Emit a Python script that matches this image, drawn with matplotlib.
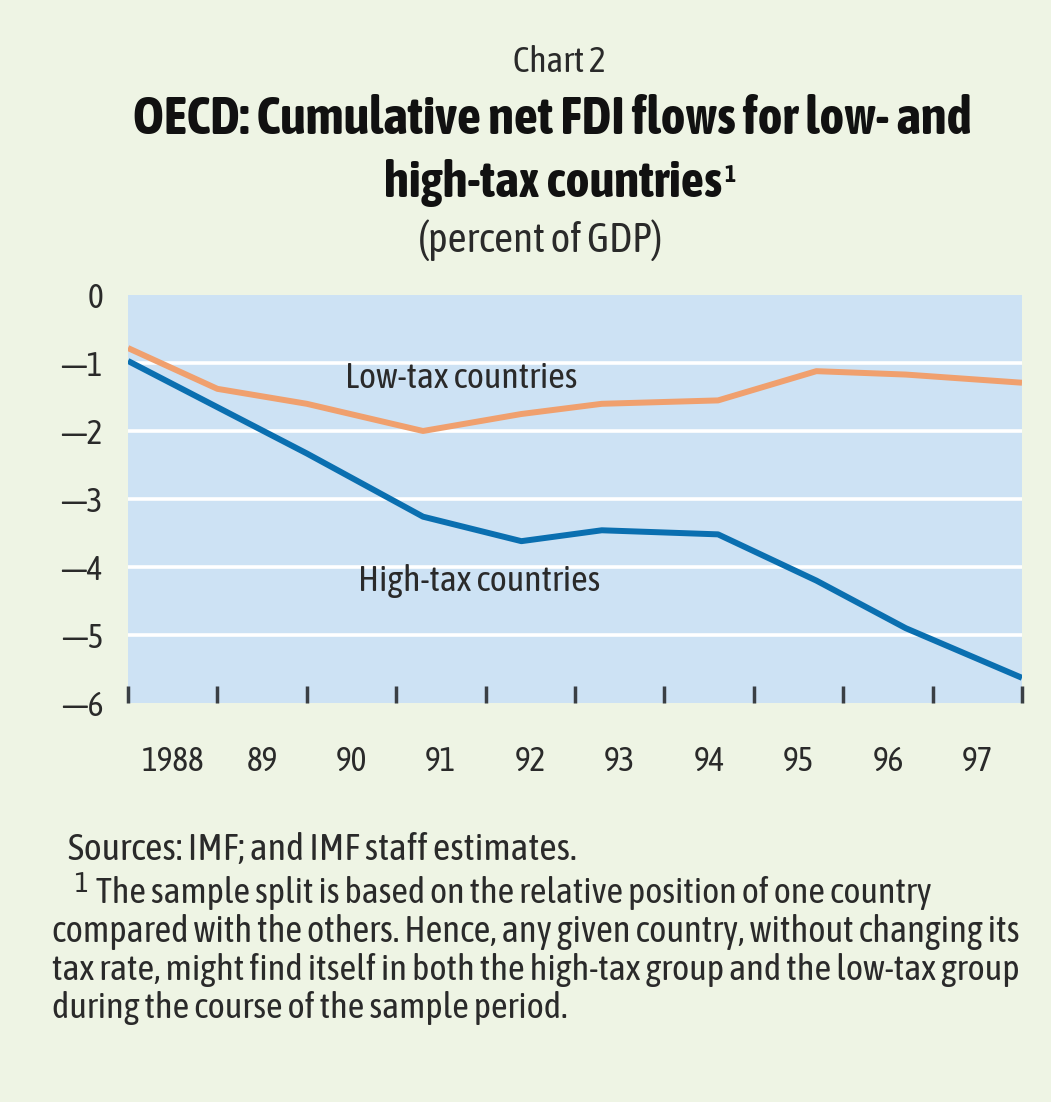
import numpy as np
import matplotlib
matplotlib.use("Agg")
import matplotlib.pyplot as plt
from matplotlib.ticker import FixedLocator, NullFormatter

plt.rcParams['font.family'] = ['Asap Condensed', 'Liberation Sans', 'DejaVu Sans']

# data (x in fractional years, 1988.0 = left edge)
years_x = [1988.0, 1989.0, 1990.0, 1991.3, 1992.4, 1993.3, 1994.6, 1995.7, 1996.7, 1998.0]
low_tax = [-0.78, -1.38, -1.60, -2.00, -1.75, -1.60, -1.55, -1.12, -1.17, -1.29]
high_tax = [-0.97, -1.65, -2.33, -3.26, -3.62, -3.46, -3.52, -4.20, -4.90, -5.63]
year_labels = ['1988', '89', '90', '91', '92', '93', '94', '95', '96', '97']
y_ticks = [0, -1, -2, -3, -4, -5, -6]

BG = '#eef4e4'
PLOT_BG = '#cde2f4'
ORANGE = '#f0a06e'
BLUE = '#0a6fb0'
TXT = '#2a2a2a'

W, H = 1051, 1102
fig = plt.figure(figsize=(W / 100, H / 100), dpi=100, facecolor=BG)
renderer = fig.canvas.get_renderer()


def px(x, y):
    return x / W, 1 - y / H


def fit_text(x, y, s, width, **kw):
    # place text, then scale font size so it spans `width` pixels like the original
    t = fig.text(*px(x, y), s, **kw)
    bb = t.get_window_extent(renderer)
    t.set_fontsize(t.get_fontsize() * width / bb.width)
    return t


ax = fig.add_axes([128 / W, 1 - 703 / H, (1022 - 128) / W, 408 / H])
ax.set_facecolor(PLOT_BG)
ax.set_xlim(1988, 1998)
ax.set_ylim(-6, 0)
for s in ax.spines.values():
    s.set_visible(False)

# white horizontal gridlines
for v in y_ticks[1:-1]:
    ax.axhline(v, color='white', lw=2.6, zorder=1)

ax.plot(years_x, low_tax, color=ORANGE, lw=4.3, zorder=3, solid_capstyle='butt')
ax.plot(years_x, high_tax, color=BLUE, lw=4.3, zorder=3, solid_capstyle='butt')

# ticks: marks at year boundaries, labels centred between them
ax.xaxis.set_major_locator(FixedLocator(np.arange(1988, 1999)))
ax.xaxis.set_major_formatter(NullFormatter())
ax.xaxis.set_minor_locator(FixedLocator(np.arange(1988, 1998) + 0.5))
ax.set_xticklabels(year_labels, minor=True)
ax.tick_params(axis='x', which='major', direction='in', length=12, width=2.5, color='#3a3f44')
ax.tick_params(axis='x', which='minor', length=0, pad=30, labelsize=24, labelcolor=TXT)

ax.set_yticks(y_ticks)
ax.set_yticklabels(['0'] + ['\u2014' + str(-v) for v in y_ticks[1:]])
ax.tick_params(axis='y', length=0, pad=18, labelsize=24, labelcolor=TXT)

ax.text(1990.43, -1.22, 'Low-tax countries', fontsize=26, color=TXT, va='center', ha='left', zorder=4)
ax.text(1990.57, -4.2, 'High-tax countries', fontsize=26, color=TXT, va='center', ha='left', zorder=4)

# titles
fit_text(559, 62, 'Chart 2', 93, ha='center', va='center', fontsize=22, color=TXT)
fit_text(552, 120, 'OECD: Cumulative net FDI flows for low- and', 839, ha='center', va='center',
         fontsize=34, fontweight='bold', color='#111111')
fit_text(722, 183, 'high-tax countries', 339, ha='right', va='center',
         fontsize=34, fontweight='bold', color='#111111')
fig.text(*px(724, 176), '1', ha='left', va='center', fontsize=17, fontweight='bold', color='#111111')
fit_text(540, 240, '(percent of GDP)', 244, ha='center', va='center', fontsize=21, color=TXT)

# notes
note_kw = dict(ha='left', va='center', fontsize=21, color=TXT)
fit_text(68, 850, 'Sources: IMF; and IMF staff estimates.', 507, **note_kw)
fig.text(*px(74, 884), '1', ha='left', va='center', fontsize=21, color=TXT)
fit_text(96, 893, 'The sample split is based on the relative position of one country', 835, **note_kw)
fit_text(52, 932, 'compared with the others. Hence, any given country, without changing its', 968, **note_kw)
fit_text(52, 970, 'tax rate, might find itself in both the high-tax group and the low-tax group', 966, **note_kw)
fit_text(52, 1008, 'during the course of the sample period.', 515, **note_kw)

fig.savefig('out.png', dpi=100, facecolor=BG)
